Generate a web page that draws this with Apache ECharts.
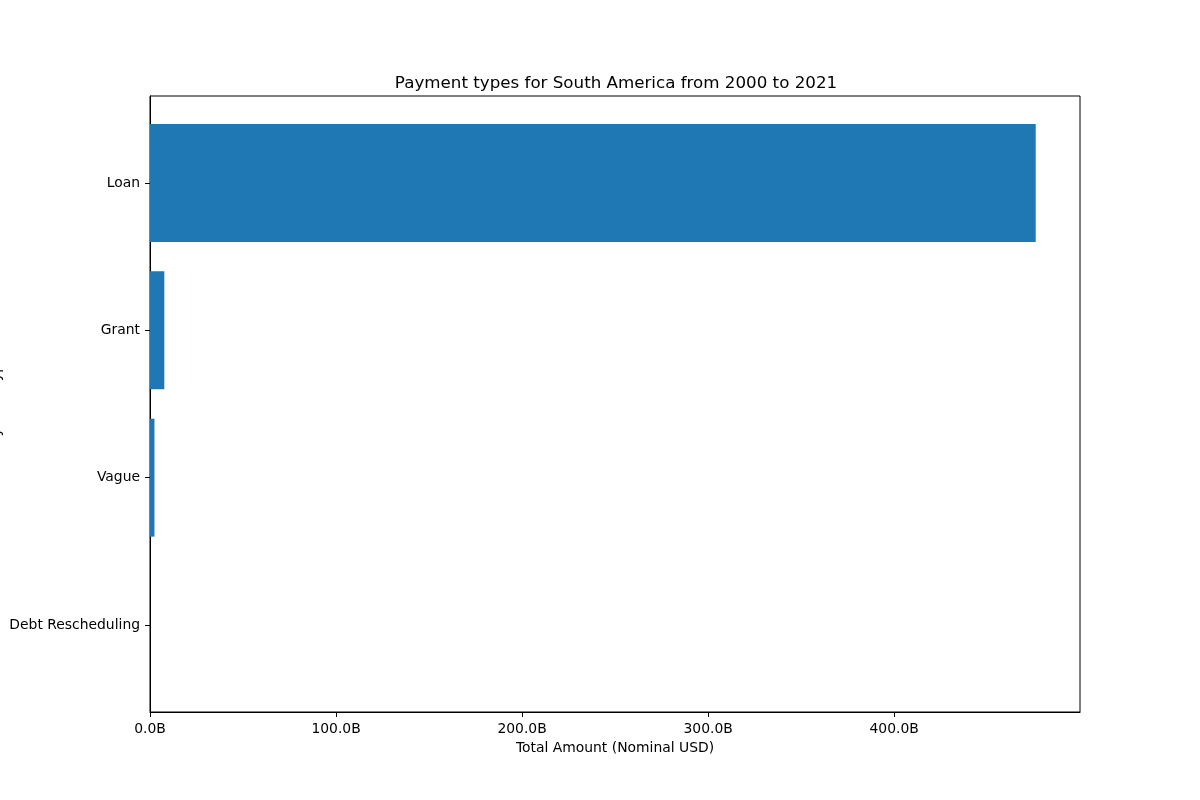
<!DOCTYPE html>
<html>
<head>
<meta charset="utf-8">
<script src="https://cdn.jsdelivr.net/npm/echarts@6/dist/echarts.min.js"></script>
<style>html,body{margin:0;padding:0;background:#fff;}#c{width:1200px;height:800px;}</style>
</head>
<body>
<div id="c"></div>
<script>
const categories = ['Loan', 'Grant', 'Vague', 'Debt Rescheduling'];
const amountsB = [476.1, 7.7, 2.4, 0.02];
const xTicks = [0, 100, 200, 300, 400];
const yTicks = [0, 1, 2, 3];

const FONT = 'DejaVu Sans';
const chart = echarts.init(document.getElementById('c'));
const data = amountsB.map((v, i) => [v, i]);
const xMax = Math.max(...amountsB) * 1.05;
const half = 0.4;
const yPad = (categories.length - 1 + 2 * half) * 0.05;

chart.setOption({
  animation: false,
  backgroundColor: '#fff',
  title: {
    text: 'Payment types for South America from 2000 to 2021',
    left: 611, top: 70, textAlign: 'center',
    textStyle: { fontFamily: FONT, fontSize: 16.7, fontWeight: 'normal', color: '#000' }
  },
  grid: { left: 150, right: 120, top: 96, bottom: 88, containLabel: false, outerBoundsMode: 'none',
    show: true, borderColor: '#000', borderWidth: 1, backgroundColor: 'transparent' },
  xAxis: {
    type: 'value', min: 0, max: xMax,
    name: 'Total Amount (Nominal USD)', nameLocation: 'middle', nameGap: 29, nameMoveOverlap: false,
    nameTextStyle: { fontFamily: FONT, fontSize: 13.9, color: '#000', verticalAlign: 'top' },
    axisLine: { show: true, onZero: false, lineStyle: { color: '#000', width: 1 } },
    axisTick: { show: true, length: 5, lineStyle: { color: '#000' }, customValues: xTicks },
    axisLabel: { fontFamily: FONT, fontSize: 13.9, color: '#000', margin: 10, customValues: xTicks,
      formatter: v => v.toFixed(1) + 'B' },
    splitLine: { show: false }
  },
  yAxis: {
    type: 'value', inverse: true, min: -half - yPad, max: categories.length - 1 + half + yPad,
    name: 'Payment Type', nameLocation: 'middle', nameGap: 147, nameRotate: 90, nameMoveOverlap: false,
    nameTextStyle: { fontFamily: FONT, fontSize: 13.9, color: '#000' },
    axisLine: { show: true, onZero: false, lineStyle: { color: '#000', width: 1 } },
    axisTick: { show: true, length: 5, lineStyle: { color: '#000' }, customValues: yTicks },
    axisLabel: { fontFamily: FONT, fontSize: 13.9, color: '#000', margin: 10, customValues: yTicks,
      formatter: v => categories[Math.round(v)] },
    splitLine: { show: false }
  },
  series: [{
    type: 'custom',
    data: data,
    encode: { x: 0, y: 1 },
    renderItem: function (params, api) {
      const val = api.value(0), idx = api.value(1);
      const p0 = api.coord([0, idx - half]);
      const p1 = api.coord([val, idx + half]);
      return {
        type: 'rect',
        shape: { x: p0[0], y: Math.min(p0[1], p1[1]), width: p1[0] - p0[0], height: Math.abs(p1[1] - p0[1]) },
        style: { fill: '#1f77b4', stroke: null, lineWidth: 0 }
      };
    }
  }]
});
</script>
</body>
</html>
